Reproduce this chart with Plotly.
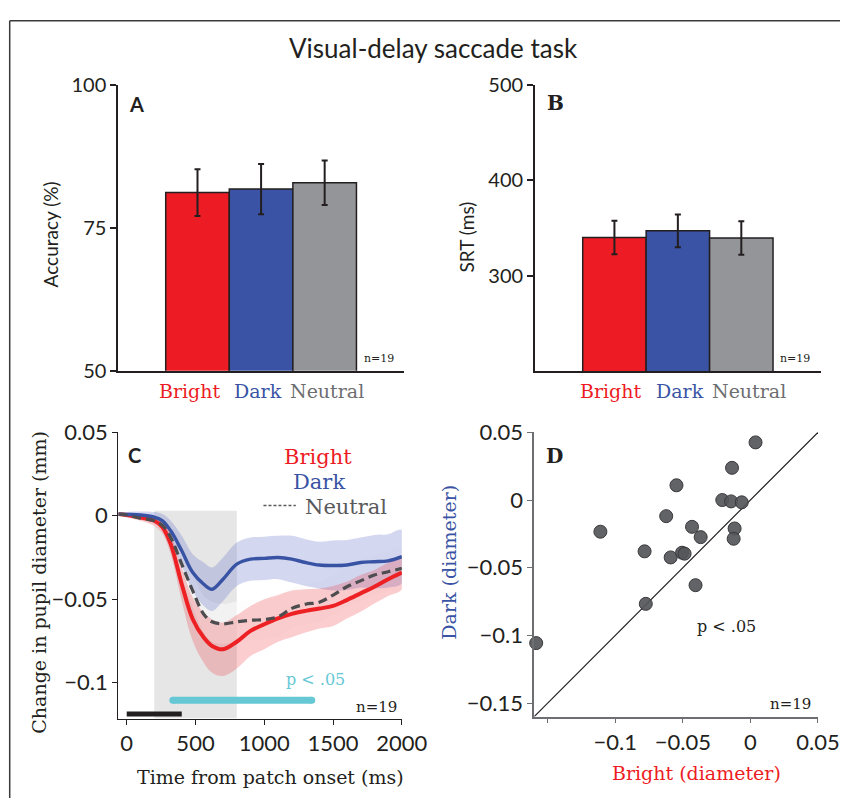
import plotly.graph_objects as go

W, H = 866, 809
def px(x):
    return x / W
def py(y):
    return 1 - y / H

SERIF = "DejaVu Serif"
SANS = "Lato"
INK = "#231f20"

# ---------------- data ----------------
conditions = ["Bright", "Dark", "Neutral"]
bar_pos = [1, 2, 3]
bar_colors = ["#ED1C24", "#3A53A4", "#939598"]
label_colors = ["#ED1C24", "#3A53A4", "#6D6E71"]

accuracy = [81.2, 81.8, 82.9]
accuracy_err = [4.1, 4.4, 3.9]
srt = [340.0, 347.0, 339.5]
srt_err = [17.7, 17.2, 17.6]

time_ms = [-60, 0, 100, 200, 260, 320, 400, 480, 560, 620, 700, 800, 900, 1000,
           1100, 1200, 1300, 1400, 1500, 1600, 1700, 1800, 1900, 2000]
bright_pupil = [0.001, 0.0005, -0.001, -0.003, -0.0068, -0.017, -0.041, -0.062, -0.073,
                -0.078, -0.080, -0.0755, -0.069, -0.065, -0.0615, -0.0588, -0.057,
                -0.0556, -0.054, -0.0505, -0.0465, -0.0425, -0.038, -0.034]
bright_sem = [0.001, 0.0015, 0.002, 0.003, 0.004, 0.006, 0.010, 0.013, 0.015, 0.016,
              0.016, 0.016, 0.015, 0.015, 0.014, 0.014, 0.013, 0.012, 0.012, 0.011,
              0.011, 0.010, 0.010, 0.010]
dark_pupil = [0.001, 0.0008, 0.0005, -0.0008, -0.003, -0.009, -0.021, -0.034, -0.041,
              -0.044, -0.038, -0.029, -0.026, -0.0255, -0.025, -0.026, -0.028, -0.0295,
              -0.0298, -0.0295, -0.028, -0.0275, -0.027, -0.0245]
dark_sem = [0.001, 0.0015, 0.002, 0.003, 0.004, 0.006, 0.009, 0.011, 0.013, 0.013,
            0.013, 0.013, 0.013, 0.013, 0.013, 0.014, 0.014, 0.014, 0.015, 0.015,
            0.015, 0.016, 0.016, 0.016]
neutral_pupil = [0.001, 0.0005, -0.0015, -0.003, -0.0058, -0.013, -0.029, -0.045, -0.059,
                 -0.0635, -0.0648, -0.0635, -0.0626, -0.0622, -0.0605, -0.0555, -0.053,
                 -0.0518, -0.0475, -0.0425, -0.039, -0.0355, -0.0335, -0.0315]
neutral_sem = [0.001, 0.0015, 0.002, 0.003, 0.004, 0.006, 0.008, 0.010, 0.011, 0.012,
               0.012, 0.012, 0.012, 0.012, 0.012, 0.012, 0.012, 0.012, 0.012, 0.012,
               0.012, 0.012, 0.012, 0.012]

patch_window = [200, 800]      # shaded period
delay_period = [0, 400]        # black bar
sig_window = [335, 1345]       # p < .05 bar

bright_diam = [0.0038, -0.0136, -0.0547, -0.0208, -0.0143, -0.0064, -0.0623, -0.1110,
               -0.0432, -0.0117, -0.0368, -0.0124, -0.0783, -0.0590, -0.0506, -0.0487,
               -0.0406, -0.0774, -0.1585]
dark_diam = [0.0426, 0.0238, 0.0109, 0.0000, -0.0010, -0.0017, -0.0119, -0.0234,
             -0.0198, -0.0210, -0.0274, -0.0286, -0.0379, -0.0424, -0.0389, -0.0396,
             -0.0629, -0.0767, -0.1057]
unity = [-0.16, 0.05]

# ---------------- figure ----------------
fig = go.Figure()

fig.add_trace(go.Bar(
    x=bar_pos, y=accuracy, width=1, marker=dict(color=bar_colors, line=dict(color=INK, width=1.5)),
    error_y=dict(type="data", array=accuracy_err, color=INK, thickness=2, width=3),
    xaxis="x", yaxis="y"))
fig.add_trace(go.Bar(
    x=bar_pos, y=srt, width=1, marker=dict(color=bar_colors, line=dict(color=INK, width=1.5)),
    error_y=dict(type="data", array=srt_err, color=INK, thickness=2, width=3),
    xaxis="x2", yaxis="y2"))

def band(mean, sem, fill):
    up = [m + s for m, s in zip(mean, sem)]
    lo = [m - s for m, s in zip(mean, sem)]
    return go.Scatter(x=time_ms + time_ms[::-1], y=up + lo[::-1], fill="toself",
                      fillcolor=fill, line=dict(width=0, shape="spline"), mode="lines",
                      hoverinfo="skip", xaxis="x3", yaxis="y3")

fig.add_trace(band(neutral_pupil, neutral_sem, "rgba(252,252,252,0.55)"))
fig.add_trace(band(dark_pupil, dark_sem, "rgba(100,110,200,0.28)"))
fig.add_trace(band(bright_pupil, bright_sem, "rgba(237,28,36,0.22)"))

fig.add_trace(go.Scatter(x=time_ms, y=bright_pupil, mode="lines",
                         line=dict(color="#ED2024", width=4, shape="spline"),
                         xaxis="x3", yaxis="y3"))
fig.add_trace(go.Scatter(x=time_ms, y=dark_pupil, mode="lines",
                         line=dict(color="#3953A4", width=3.4, shape="spline"),
                         xaxis="x3", yaxis="y3"))
fig.add_trace(go.Scatter(x=time_ms, y=neutral_pupil, mode="lines",
                         line=dict(color="#4d4d4f", width=3.2, dash="9px,5px", shape="spline"),
                         xaxis="x3", yaxis="y3"))

fig.add_trace(go.Scatter(x=sig_window, y=[-0.1105, -0.1105], mode="lines+markers",
                         line=dict(color="#66C8D5", width=7),
                         marker=dict(color="#66C8D5", size=7),
                         cliponaxis=False, xaxis="x3", yaxis="y3"))
fig.add_trace(go.Scatter(x=delay_period, y=[-0.1188, -0.1188], mode="lines",
                         line=dict(color=INK, width=5), cliponaxis=False,
                         xaxis="x3", yaxis="y3"))
fig.add_trace(go.Scatter(x=[994, 1229], y=[0.0062, 0.0062], mode="lines",
                         line=dict(color="#58595B", width=1.6, dash="3px,2px"),
                         xaxis="x3", yaxis="y3"))

fig.add_trace(go.Scatter(x=unity, y=unity, mode="lines", line=dict(color=INK, width=1.2),
                         cliponaxis=False, xaxis="x4", yaxis="y4"))
fig.add_trace(go.Scatter(x=bright_diam, y=dark_diam, mode="markers",
                         marker=dict(size=13, color="rgba(85,86,90,0.92)",
                                     line=dict(color="#3a3a3c", width=1)),
                         cliponaxis=False, xaxis="x4", yaxis="y4"))

tick_ab = dict(family=SANS, size=20, color=INK)
tick_cd = dict(family=SANS, size=22, color=INK)
common = dict(showgrid=False, zeroline=False, fixedrange=True)

fig.update_layout(
    width=W, height=H, margin=dict(l=0, r=0, t=0, b=0),
    paper_bgcolor="white", plot_bgcolor="rgba(0,0,0,0)", showlegend=False,
    xaxis=dict(domain=[px(122), px(416)], range=[-0.245, 4.24], anchor="y",
               showline=True, linecolor=INK, linewidth=2, showticklabels=False, ticks="", **common),
    yaxis=dict(domain=[py(368), py(73.5)], range=[50, 100], anchor="x",
               tickvals=[50, 75, 100], ticks="outside", ticklen=6, tickwidth=2, tickcolor=INK,
               showline=True, linecolor=INK, linewidth=2, tickfont=tick_ab, **common),
    xaxis2=dict(domain=[px(551.7), px(846)], range=[-0.25, 4.25], anchor="y2",
                showline=True, linecolor=INK, linewidth=2, showticklabels=False, ticks="", **common),
    yaxis2=dict(domain=[py(368.3), py(73.3)], range=[200, 500], anchor="x2",
                tickvals=[300, 400, 500], ticks="outside", ticklen=6, tickwidth=2, tickcolor=INK,
                showline=True, linecolor=INK, linewidth=2, tickfont=tick_ab, **common),
    xaxis3=dict(domain=[px(122), px(414.3)], range=[-61, 2000], anchor="y3",
                tickvals=[0, 500, 1000, 1500, 2000], ticks="outside", ticklen=5, tickwidth=1.3,
                tickcolor=INK, showline=True, linecolor=INK, linewidth=1.3, tickfont=tick_cd, **common),
    yaxis3=dict(domain=[py(727), py(431.7)], range=[-0.1215, 0.05], anchor="x3",
                tickvals=[-0.1, -0.05, 0, 0.05], ticktext=["\u22120.1", "\u22120.05", "0", "0.05"],
                ticks="outside", ticklen=5, tickwidth=1.3, tickcolor=INK,
                showline=True, linecolor=INK, linewidth=1.3, tickfont=tick_cd, **common),
    xaxis4=dict(domain=[px(550.7), px(843.3)], range=[-0.16, 0.05], anchor="y4",
                tickvals=[-0.15, -0.1, -0.05, 0, 0.05],
                ticktext=["", "\u22120.1", "\u22120.05", "0", "0.05"],
                ticks="outside", ticklen=5, tickwidth=1.3, tickcolor="#6d6e71",
                showline=True, linecolor="#6d6e71", linewidth=1.5, tickfont=tick_cd, **common),
    yaxis4=dict(domain=[py(725), py(431.7)], range=[-0.16, 0.05], anchor="x4",
                tickvals=[-0.15, -0.1, -0.05, 0, 0.05],
                ticktext=["\u22120.15", "\u22120.1", "\u22120.05", "0", "0.05"],
                ticks="outside", ticklen=5, tickwidth=1.3, tickcolor="#6d6e71",
                showline=True, linecolor="#6d6e71", linewidth=1.5, tickfont=tick_cd, **common),
)

shapes = [
    dict(type="rect", xref="x3", yref="y3", x0=patch_window[0], x1=patch_window[1],
         y0=-0.1215, y1=0.003, fillcolor="#E6E6E6", line=dict(width=0), layer="below"),
    dict(type="line", xref="paper", yref="paper", x0=px(10), x1=px(10), y0=0, y1=py(7),
         line=dict(color="#3a3a3a", width=1.5)),
    dict(type="line", xref="paper", yref="paper", x0=px(10), x1=1, y0=py(7), y1=py(7),
         line=dict(color="#3a3a3a", width=1.5)),
]
fig.update_layout(shapes=shapes)

ann = []
def text(x, y, s, size, color=INK, family=SERIF, angle=0, xref="paper", yref="paper"):
    ann.append(dict(x=x, y=y, xref=xref, yref=yref, text=s, showarrow=False,
                    font=dict(family=family, size=size, color=color), textangle=angle,
                    xanchor="center", yanchor="middle"))

text(px(447), py(35), "Visual-delay saccade task", 26, family=SANS)

for name, c, xa, xb in zip(conditions, label_colors, [195.7, 266.3, 336.8], [630.3, 700.8, 771.8]):
    text(px(xa), py(389), name, 19, color=c)
    text(px(xb), py(389), name, 19, color=c)

text(px(53), py(227), "Accuracy (%)", 19, family=SANS, angle=-90)
text(px(481), py(230), "SRT (ms)", 19, family=SANS, angle=-90)
text(px(40), py(586), "Change in pupil diameter (mm)", 19, angle=-90)
text(px(279), py(787), "Time from patch onset (ms)", 19)
text(px(462), py(566), "Dark (diameter)", 19, color="#3A53A4", angle=-90)
text(px(718), py(783), "Bright (diameter)", 19, color="#ED1C24")

text(px(141), py(93), "<b>A</b>", 20, family=SANS)
text(px(573), py(92), "<b>B</b>", 20)
text(px(139), py(455), "<b>C</b>", 20, family=SANS)
text(px(571.5), py(456), "<b>D</b>", 20)

text(px(391), py(356), "n=19", 11)
text(px(819.6), py(356), "n=19", 11)
text(px(388), py(715), "n=19", 15)
text(px(815), py(712), "n=19", 15)

text(px(749), py(632), "p &lt; .05", 16)
text(px(325), py(687), "p &lt; .05", 16, color="#66C8D5")

text(px(328.3), py(456.7), "Bright", 21, color="#ED1C24")
text(px(328.7), py(483.3), "Dark", 21, color="#3A53A4")
text(px(356.2), py(509), "Neutral", 21, color="#58595B")

fig.update_layout(annotations=ann)

fig.write_html("out.html", config={"displayModeBar": False},
               post_script="document.body.style.margin='0';document.body.style.overflow='hidden';")
